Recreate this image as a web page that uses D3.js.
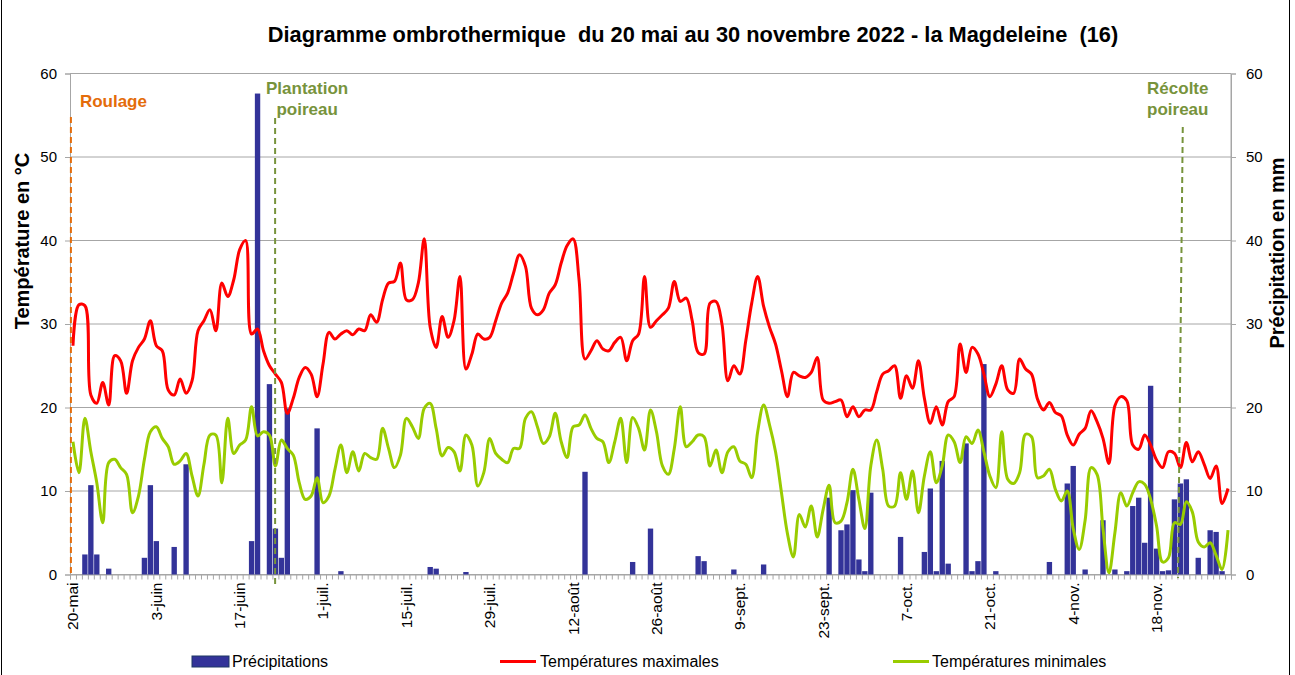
<!DOCTYPE html>
<html><head><meta charset="utf-8">
<script src="https://cdn.jsdelivr.net/npm/d3@7"></script>
<style>
body{margin:0;background:#fff}
svg{display:block}
text{font-family:"Liberation Sans",Arial,sans-serif;white-space:pre}
</style>
</head><body>
<svg id="c" width="1295" height="675"></svg>
<script>
// ---------- DATA ----------
const titleText = "Diagramme ombrothermique  du 20 mai au 30 novembre 2022 - la Magdeleine  (16)";
const tickDays = [0,14,28,42,56,70,84,98,112,126,140,154,168,182];
const tickLabels = ["20-mai","3-juin","17-juin","1-juil.","15-juil.","29-juil.","12-août","26-août","9-sept.","23-sept.","7-oct.","21-oct.","4-nov.","18-nov."];
const yTicks = [0,10,20,30,40,50,60];

// Précipitations (mm), one value per day from 20 May to 30 Nov
const precip = [
0,0,2.4,10.7,2.4,0,0.7,0,0,0,
0,0,2.0,10.7,4.0,0,0,3.3,0,13.2,
0,0,0,0,0,0,0,0,0,0,
4.0,57.6,0,22.8,5.5,2.0,19.9,0,0,0,
0,17.5,0,0,0,0.4,0,0,0,0,
0,0,0,0,0,0,0,0,0,0,
0.9,0.7,0,0,0,0,0.3,0,0,0,
0,0,0,0,0,0,0,0,0,0,
0,0,0,0,0,0,12.3,0,0,0,
0,0,0,0,1.5,0,0,5.5,0,0,
0,0,0,0,0,2.2,1.6,0,0,0,
0,0.6,0,0,0,0,1.2,0,0,0,
0,0,0,0,0,0,0,9.2,0,5.3,
6.0,10.1,1.8,0.4,9.8,0,0,0,0,4.5,
0,0,0,2.7,10.3,0.4,13.6,1.3,0,0,
15.7,0.4,1.6,25.2,0,0.4,0,0,0,0,
0,0,0,0,1.5,0,0,10.9,13.0,0,
0.6,0,0,6.5,0,0.6,0,0.4,8.2,9.2,
3.8,22.6,3.1,0.4,0.5,9.0,10.9,11.4,0,2.0,
0,5.3,5.1,0.4,0
];

// Températures maximales (°C)
const tmax = [
27.4,32.3,32.2,21.5,20.5,23.0,20.3,26.2,25.6,21.7,
25.6,27.2,28.2,30.4,27.4,26.8,22.1,21.5,23.4,21.7,
23.2,29.2,30.4,31.7,29.2,34.9,33.3,35.3,38.9,40.0,
28.8,29.4,26.8,25.0,24.0,23.0,19.3,21.1,23.6,24.8,
24.0,21.3,25.2,29.0,28.2,28.8,29.2,28.7,29.4,29.2,
31.1,30.2,32.9,34.9,35.1,37.3,32.9,32.9,34.9,40.2,
29.6,27.2,30.9,28.4,30.4,35.7,24.6,26.4,28.8,28.2,
28.4,30.4,32.5,33.7,36.1,38.3,36.9,31.9,31.1,31.7,
33.7,34.7,37.3,39.4,40.2,35.3,25.8,26.8,28.0,27.0,
26.8,27.8,28.4,25.6,28.0,28.8,35.7,29.6,30.4,31.1,
31.9,35.1,32.7,33.1,30.4,26.6,26.4,32.5,32.7,30.0,
23.2,25.0,24.0,28.0,32.5,35.7,32.1,29.6,27.6,24.4,
21.3,24.2,23.8,23.6,24.2,26.0,20.9,20.5,20.7,20.9,
18.9,20.1,18.9,19.7,19.7,21.9,24.0,24.4,25.0,21.1,
23.8,22.3,25.6,21.1,18.1,20.1,17.9,20.7,21.3,27.6,
24.2,27.2,26.4,24.0,21.3,22.8,25.0,22.1,21.7,25.8,
24.6,24.0,21.0,19.7,20.6,19.4,19.0,16.7,15.5,16.8,
17.5,19.6,18.3,16.3,13.3,20.2,21.3,20.8,15.5,15.0,
16.7,15.5,13.7,12.8,14.7,14.5,12.8,15.8,13.5,14.7,
13.2,11.5,13.0,8.5,10.3
];

// Températures minimales (°C)
const tmin = [
15.9,12.2,18.7,14.7,11.0,6.2,13.4,13.8,12.8,12.0,
7.4,9.4,13.8,17.1,17.7,16.3,15.3,13.2,13.6,14.5,
11.8,9.4,13.2,16.7,16.7,11.0,18.7,14.5,15.5,16.1,
20.1,16.6,17.1,16.7,13.0,16.1,15.1,14.3,11.0,9.0,
9.4,11.6,8.6,9.4,12.6,15.5,12.2,14.7,12.4,14.5,
14.0,13.8,17.5,15.1,12.8,14.3,18.7,17.7,16.3,19.9,
20.5,17.5,14.2,15.2,14.7,12.4,16.7,15.5,10.6,12.2,
16.3,14.5,13.8,13.4,15.1,15.1,18.7,19.5,17.7,15.7,
16.5,19.3,15.9,14.0,17.7,17.9,19.1,17.5,16.3,15.9,
13.4,15.9,18.7,13.4,18.8,17.5,14.9,19.7,17.1,13.0,
12.0,15.1,20.1,15.3,15.9,16.7,16.5,13.0,14.9,12.2,
14.7,15.3,13.6,13.2,11.6,17.1,20.3,17.9,14.7,9.8,
4.9,2.1,7.2,5.7,8.2,4.5,7.8,10.7,6.2,6.4,
8.6,12.6,9.0,5.5,13.0,16.1,12.6,8.2,8.2,12.2,
9.0,12.4,7.4,11.8,14.7,11.0,13.0,16.7,15.9,13.4,
16.5,15.7,17.3,14.7,11.8,10.4,17.1,11.4,10.9,12.2,
16.8,16.5,11.6,11.8,12.6,10.2,8.8,10.0,5.5,3.0,
6.5,12.8,12.0,5.5,0.2,5.0,9.8,8.2,9.8,11.1,
10.8,9.0,5.8,1.5,2.0,6.2,6.0,8.7,7.5,3.9,
3.3,3.8,2.3,0.6,5.3
];

// Events (day offset from 20 May, at top / bottom of the dashed line)
const eventNames = [["Roulage"], ["Plantation","poireau"], ["Récolte","poireau"]];
const eventDayTop = [0.15, 34.45, 186.9];
const eventDayBottom = [0.15, 34.45, 186.1];

const legendLabels = ["Précipitations","Températures maximales","Températures minimales"];

// ---------- CHART ----------
const svg = d3.select("#c");
const n = tmax.length;
const P = {left:70, right:1231, top:73.5, bottom:574.5};
const GRID = "#a6a6a6";

const x = d3.scaleBand().domain(d3.range(n)).range([P.left, P.right]).paddingInner(0.1).paddingOuter(0.05);
const xc = i => x(i) + x.bandwidth()/2;
const xEdge = d3.scaleLinear().domain([0, n]).range([P.left, P.right]);
const yT = d3.scaleLinear().domain([0,60]).range([P.bottom, P.top]);
const yP = d3.scaleLinear().domain([0,60]).range([P.bottom, P.top]);

// frame
svg.append("rect").attr("x",1.5).attr("y",-2).attr("width",1288).attr("height",690)
  .attr("fill","none").attr("stroke","#000").attr("stroke-width",1);

// gridlines
svg.append("g").selectAll("line").data(yTicks).join("line")
  .attr("x1",P.left).attr("x2",P.right)
  .attr("y1",d=>yT(d)).attr("y2",d=>yT(d))
  .attr("stroke",GRID).attr("stroke-width",1);
svg.append("line").attr("x1",P.right).attr("x2",P.right).attr("y1",P.top).attr("y2",P.bottom)
  .attr("stroke",GRID);

// left axis
const gl = svg.append("g").attr("transform",`translate(${P.left},0)`)
  .call(d3.axisLeft(yT).tickValues(yTicks).tickSize(5).tickPadding(8));
gl.selectAll("path,line").attr("stroke",GRID);
gl.selectAll("text").attr("font-size",15).attr("fill","#000").attr("font-family","Liberation Sans, Arial");

// right axis
const gr = svg.append("g").attr("transform",`translate(${P.right},0)`)
  .call(d3.axisRight(yP).tickValues(yTicks).tickSize(5).tickPadding(10));
gr.selectAll("path,line").attr("stroke",GRID);
gr.selectAll("text").attr("font-size",15).attr("fill","#000").attr("font-family","Liberation Sans, Arial");

// bottom axis: minor ticks at every day
const gb = svg.append("g").attr("transform",`translate(0,${P.bottom})`)
  .call(d3.axisBottom(xEdge).tickValues(d3.range(n+1)).tickSize(5).tickFormat(""));
gb.selectAll("path,line").attr("stroke",GRID);

// date labels
svg.append("g").selectAll("text").data(tickDays).join("text")
  .attr("transform",(d)=>`translate(${xc(d)},${P.bottom+8}) rotate(-90)`)
  .attr("text-anchor","end").attr("dy","0.35em")
  .attr("font-size",15.5).attr("fill","#000")
  .text((d,i)=>tickLabels[i]);

// bars
svg.append("g").selectAll("rect").data(precip).join("rect")
  .attr("x",(d,i)=>x(i)).attr("width",x.bandwidth())
  .attr("y",d=>yP(d)).attr("height",d=>yP(0)-yP(d))
  .attr("fill","#333399");

// lines
const line = d3.line().x((d,i)=>xc(i)).y(d=>yT(d)).curve(d3.curveCatmullRom.alpha(0.5));
svg.append("path").datum(tmin).attr("d",line).attr("fill","none")
  .attr("stroke","#99cc00").attr("stroke-width",3).attr("stroke-linejoin","round");
svg.append("path").datum(tmax).attr("d",line).attr("fill","none")
  .attr("stroke","#ff0000").attr("stroke-width",3).attr("stroke-linejoin","round");

// events
const evColor = ["#E46C0A","#77933C","#77933C"];
const evLineTop = [117, 118, 127];
const evLineBottom = [574, 585, 578];
eventNames.forEach((names,k)=>{
  const xt = xEdge(eventDayTop[k]), xb = xEdge(eventDayBottom[k]);
  svg.append("line").attr("x1",xt).attr("x2",xb).attr("y1",evLineTop[k]).attr("y2",evLineBottom[k])
    .attr("stroke",evColor[k]).attr("stroke-width",2).attr("stroke-dasharray","6,4");
  const tx = k===0 ? xt+9 : (k===1 ? xt+32 : xt-5);
  const anchor = k===0 ? "start" : "middle";
  names.forEach((s,j)=>{
    svg.append("text").attr("x",tx).attr("y",(k===0?107:94)+j*21)
      .attr("text-anchor",anchor).attr("font-size",17).attr("font-weight","bold")
      .attr("fill",evColor[k]).text(s);
  });
});

// title
svg.append("text").attr("x",693).attr("y",42).attr("text-anchor","middle")
  .attr("font-size",21.8).attr("font-weight","bold").attr("fill","#000").text(titleText);

// axis titles
svg.append("text").attr("transform",`translate(29,241) rotate(-90)`).attr("text-anchor","middle")
  .attr("font-size",20).attr("font-weight","bold").text("Température en °C");
svg.append("text").attr("transform",`translate(1284,253) rotate(-90)`).attr("text-anchor","middle")
  .attr("font-size",20).attr("font-weight","bold").text("Précipitation en mm");

// legend
const lg = svg.append("g");
lg.append("rect").attr("x",192).attr("y",656).attr("width",37).attr("height",11)
  .attr("fill","#333399").attr("stroke","#1f3864").attr("stroke-width",1);
lg.append("line").attr("x1",500).attr("x2",536).attr("y1",661.5).attr("y2",661.5).attr("stroke","#ff0000").attr("stroke-width",3);
lg.append("line").attr("x1",893).attr("x2",929).attr("y1",661.5).attr("y2",661.5).attr("stroke","#99cc00").attr("stroke-width",3);
[232,540,932].forEach((lx,i)=>{
  lg.append("text").attr("x",lx).attr("y",667).attr("font-size",16).attr("fill","#000").text(legendLabels[i]);
});
</script>
</body></html>
